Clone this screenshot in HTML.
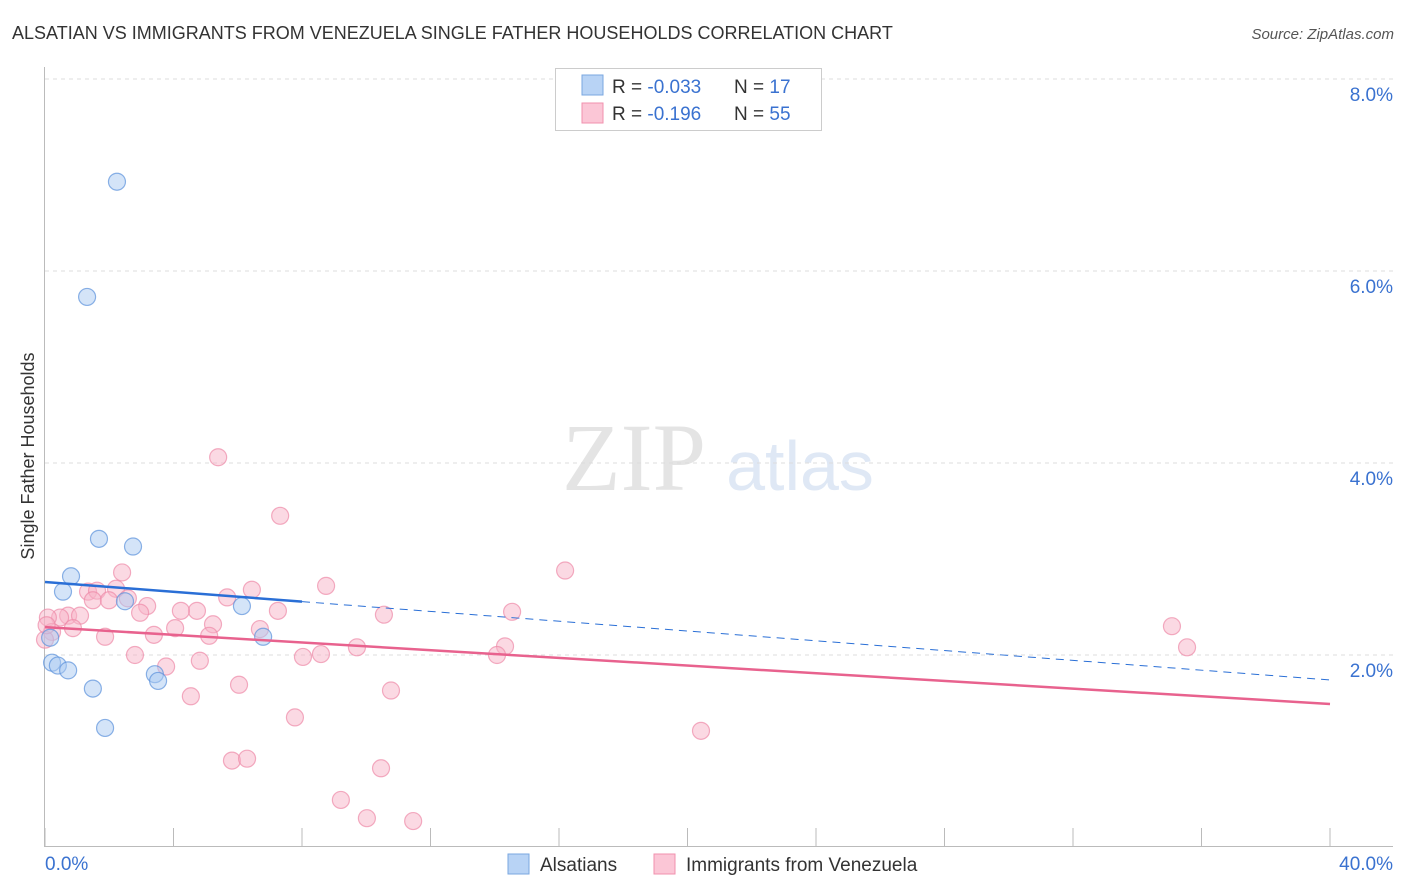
<!DOCTYPE html>
<html><head><meta charset="utf-8"><style>
body{margin:0;background:#fff;font-family:"Liberation Sans",sans-serif;}
svg{display:block}
</style></head><body>
<svg id="chart" width="1406" height="892" xmlns="http://www.w3.org/2000/svg">
<text x="12" y="39" font-size="18" fill="#333">ALSATIAN VS IMMIGRANTS FROM VENEZUELA SINGLE FATHER HOUSEHOLDS CORRELATION CHART</text>
<text x="1394" y="39" font-size="15" fill="#555" font-style="italic" text-anchor="end">Source: ZipAtlas.com</text>
<text x="634" y="490" font-size="96" fill="#e4e4e4" font-family="Liberation Serif,serif" text-anchor="middle">ZIP</text>
<text x="800" y="490" font-size="70" fill="#dfe8f5" text-anchor="middle">atlas</text>
<text transform="translate(34,456) rotate(-90)" font-size="18" fill="#333" text-anchor="middle">Single Father Households</text>
<g id="grid"></g><g id="axes"></g><g id="marks"></g>
<g>
<rect x="555.5" y="68.5" width="266" height="62" fill="#fff" stroke="#ccc"/>
<rect x="582" y="75" width="21" height="20" fill="#b8d3f5" stroke="#7aa7e0"/>
<rect x="582" y="103" width="21" height="20" fill="#fbc6d6" stroke="#f090ae"/>
<text x="612" y="93" font-size="19" fill="#333">R = <tspan fill="#3a72d0">-0.033</tspan></text>
<text x="734" y="93" font-size="19" fill="#333">N = <tspan fill="#3a72d0"> 17</tspan></text>
<text x="612" y="120" font-size="19" fill="#333">R = <tspan fill="#3a72d0"> -0.196</tspan></text>
<text x="734" y="120" font-size="19" fill="#333">N = <tspan fill="#3a72d0">55</tspan></text>
</g>
<g>
<rect x="508" y="854" width="21" height="20" fill="#b8d3f5" stroke="#7aa7e0"/>
<text x="540" y="871" font-size="19" fill="#333">Alsatians</text>
<text x="686" y="871" font-size="19" fill="#333">Immigrants from Venezuela</text>
<rect x="654" y="854" width="21" height="20" fill="#fbc6d6" stroke="#f090ae"/>
</g>
</svg>
<script>
const yTicks=[2,4,6,8];
const yTickLabels=["2.0%","4.0%","6.0%","8.0%"];
const xEndLabels=["0.0%","40.0%"];
const alsX=[2.24,1.31,1.68,2.74,0.81,0.56,2.49,6.13,6.79,0.16,0.22,0.40,0.72,3.42,3.52,1.49,1.87];
const alsY=[6.93,5.73,3.21,3.13,2.82,2.66,2.56,2.51,2.19,2.18,1.92,1.89,1.84,1.80,1.73,1.65,1.24];
const venX=[5.39,7.32,16.19,2.40,8.75,6.44,1.34,1.62,2.21,1.49,1.99,2.58,5.67,3.18,4.73,4.23,7.25,14.54,10.55,2.96,0.72,1.09,0.47,0.09,35.08,5.23,4.05,6.69,0.87,0.22,3.39,5.11,1.87,9.71,14.32,35.55,2.80,8.59,8.03,14.07,4.82,3.77,6.04,10.77,4.54,7.78,20.42,5.82,6.29,10.46,9.21,10.02,11.46,0.0,0.05];
const venY=[4.06,3.45,2.88,2.86,2.72,2.68,2.66,2.67,2.69,2.57,2.57,2.59,2.60,2.51,2.46,2.46,2.46,2.45,2.42,2.44,2.41,2.41,2.39,2.39,2.30,2.32,2.28,2.27,2.28,2.24,2.21,2.20,2.19,2.08,2.09,2.08,2.00,2.01,1.98,2.00,1.94,1.88,1.69,1.63,1.57,1.35,1.21,0.90,0.92,0.82,0.49,0.30,0.27,2.16,2.31];
const alsTrend=[2.76,-0.0255];
const venTrend=[2.29,-0.02];
const NS="http://www.w3.org/2000/svg";
const X0=45,X1=1330,Y0=847,PY=96;
const sx=v=>X0+(X1-X0)*v/40, sy=v=>Y0-PY*v;
function mk(tag,attrs,parent){const e=document.createElementNS(NS,tag);for(const k in attrs)e.setAttribute(k,attrs[k]);parent.appendChild(e);return e;}
const grid=document.getElementById('grid'),axes=document.getElementById('axes'),marks=document.getElementById('marks');
yTicks.forEach((t,i)=>{
 const l=mk('line',{x1:X0,x2:1393,y1:sy(t),y2:sy(t),stroke:'#ddd','stroke-dasharray':'4,4'},grid);
 
 
 const tx=mk('text',{x:1393,y:sy(t)+22,'font-size':19,fill:'#3a72d0','text-anchor':'end'},axes);
 tx.textContent=yTickLabels[i];
 
 
});
const ax=mk('line',{x1:X0,x2:1393,y1:846.5,y2:846.5,stroke:'#bbb'},axes);


const ay=mk('line',{x1:44.5,x2:44.5,y1:67,y2:847,stroke:'#bbb'},axes);


for(let v=0;v<=40;v+=4){
 const t=mk('line',{x1:sx(v),x2:sx(v),y1:828,y2:847,stroke:'#bbb'},axes);
 
 
}
[[0,'start'],[40,'end']].forEach((p,i)=>{
 const t=mk('text',{x:i?1393:45,y:870,'font-size':19,fill:'#3a72d0','text-anchor':p[1]},axes);
 t.textContent=xEndLabels[i];
 
 
});
function pts(xs,ys,fill,stroke,name){
 xs.forEach((x,i)=>{
  const c=mk('circle',{cx:sx(x),cy:sy(ys[i]),r:8.5,fill:fill,'fill-opacity':0.5,stroke:stroke,'stroke-opacity':0.7,'stroke-width':1.2},marks);
  
  
 });
}
pts(venX,venY,'#f8b4c8','#ee8aa8','venezuela-point');
pts(alsX,alsY,'#a9c9f2','#5b92dc','alsatian-point');
const ys=(tr,x)=>sy(tr[0]+tr[1]*x);
const l1=mk('line',{x1:sx(0),y1:ys(alsTrend,0),x2:sx(8),y2:ys(alsTrend,8),stroke:'#2a6fd6','stroke-width':2.5},marks);


const l2=mk('line',{x1:sx(8),y1:ys(alsTrend,8),x2:sx(40),y2:ys(alsTrend,40),stroke:'#2a6fd6','stroke-width':1,'stroke-dasharray':'8,6'},marks);


const l3=mk('line',{x1:sx(0),y1:ys(venTrend,0),x2:sx(40),y2:ys(venTrend,40),stroke:'#e8628e','stroke-width':2.5},marks);


</script>
</body></html>
